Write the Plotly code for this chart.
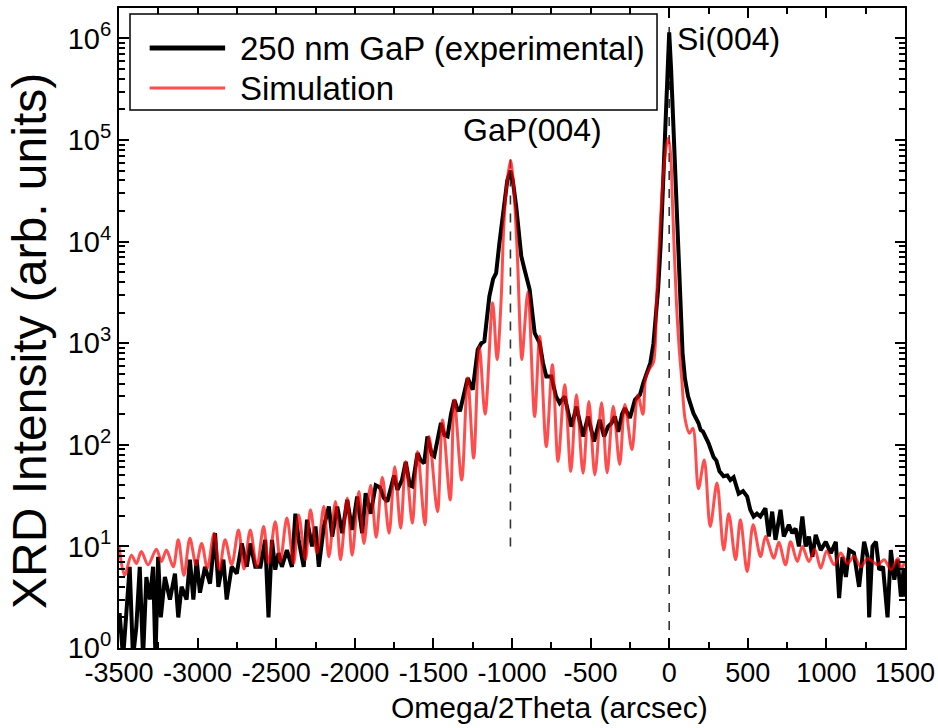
import plotly.graph_objects as go

# ---------------- data ----------------
exp_points = [
    (-3500, 1.4), (-3496, 2.2), (-3474, 0.8), (-3453, 2.0), (-3432, 6.3), (-3411, 0.8),
    (-3390, 1.6), (-3368, 6.3), (-3347, 0.8), (-3326, 5.0), (-3304, 3.0), (-3283, 6.3),
    (-3268, 0.8), (-3251, 7.9), (-3234, 2.0), (-3208, 5.0), (-3176, 3.0), (-3144, 5.4),
    (-3123, 2.0), (-3102, 4.0), (-3070, 3.0), (-3049, 7.4), (-3027, 3.0), (-3006, 7.4),
    (-2985, 3.5), (-2953, 6.3), (-2921, 4.3), (-2889, 13.5), (-2868, 4.0), (-2836, 7.4),
    (-2815, 3.0), (-2783, 6.3), (-2751, 5.4), (-2719, 10.7), (-2687, 6.3), (-2665, 10.7),
    (-2633, 6.3), (-2600, 6.3), (-2570, 11.6), (-2549, 2.0), (-2527, 11.6), (-2506, 5.9),
    (-2485, 8.6), (-2464, 6.3), (-2432, 9.2), (-2400, 6.3), (-2378, 21), (-2357, 11.6),
    (-2325, 6.3), (-2304, 18.3), (-2272, 10), (-2250, 15.7), (-2229, 6.3), (-2197, 15.7),
    (-2165, 24.7), (-2144, 12.5), (-2112, 24.7), (-2080, 13.5), (-2048, 28.7), (-2017, 14.5),
    (-1985, 31), (-1953, 13.5), (-1931, 33.4), (-1899, 21), (-1867, 40), (-1840, 38),
    (-1815, 30), (-1793, 27.6), (-1750, 50), (-1729, 36), (-1700, 45), (-1676, 68),
    (-1650, 40), (-1634, 39), (-1601, 83), (-1580, 70), (-1559, 66), (-1538, 121),
    (-1510, 80), (-1495, 77), (-1452, 164), (-1430, 125), (-1410, 121), (-1388, 200),
    (-1367, 277), (-1345, 220), (-1329, 221), (-1282, 454), (-1265, 380), (-1250, 348),
    (-1218, 863), (-1195, 1000), (-1176, 1042), (-1160, 1800), (-1144, 2890), (-1120, 4300),
    (-1101, 4900), (-1080, 9700), (-1048, 24000), (-1030, 40000), (-1010, 50000), (-995, 40000),
    (-973, 22000), (-952, 10500), (-941, 7200), (-920, 5300), (-888, 3400), (-856, 1260),
    (-824, 1000), (-803, 640), (-782, 471), (-750, 471), (-720, 300), (-697, 258),
    (-665, 299), (-622, 151), (-590, 238), (-548, 121), (-516, 190), (-478, 108),
    (-442, 176), (-414, 121), (-390, 150), (-367, 164), (-346, 190), (-324, 134),
    (-300, 200), (-282, 230), (-250, 184), (-218, 277), (-186, 311), (-165, 406),
    (-140, 520), (-120, 640), (-100, 1000), (-85, 1700), (-70, 3500), (-55, 9000),
    (-40, 30000), (-25, 120000), (-12, 450000), (0, 1150000), (12, 500000), (25, 150000),
    (40, 35000), (55, 8000), (70, 2100), (85, 800), (100, 450), (120, 300),
    (154, 205), (186, 164), (200, 140), (215, 135), (250, 104), (282, 76),
    (300, 70), (320, 55), (346, 49), (370, 50), (389, 45), (410, 48),
    (442, 33), (470, 35), (496, 31), (516, 22.9), (537, 19.7), (558, 21),
    (580, 19.7), (612, 23.8), (634, 12.5), (655, 22), (676, 11.6), (708, 22.9),
    (729, 12.5), (761, 16.3), (783, 13.5), (804, 15), (825, 10), (847, 19.7),
    (868, 10), (889, 12.5), (911, 7.9), (932, 13), (964, 9.2), (996, 11.1),
    (1028, 8.6), (1060, 11.1), (1081, 3.1), (1102, 7.9), (1124, 5.0), (1145, 9.2),
    (1175, 8.6), (1208, 4.0), (1240, 11.1), (1262, 7.9), (1272, 2.0), (1293, 10),
    (1315, 11.1), (1336, 5.9), (1360, 6.3), (1389, 2.0), (1410, 9.2), (1432, 4.7),
    (1453, 7.4), (1474, 3.2), (1491, 5.9), (1500, 3.2),
]

sim_points = [
    (-3500, 10), (-3464, 5.2), (-3421, 8.2), (-3389, 6.8), (-3358, 8.9), (-3315, 6.6),
    (-3262, 9.4), (-3230, 7.1), (-3198, 9.2), (-3155, 6.3), (-3123, 11.6), (-3087, 5.2),
    (-3049, 12), (-3010, 6.6), (-2974, 10.7), (-2938, 6.1), (-2895, 13.5), (-2861, 5.9),
    (-2825, 11.6), (-2783, 6.6), (-2740, 14.5), (-2705, 6.0), (-2665, 14.5), (-2623, 6.3),
    (-2580, 15.7), (-2549, 6.8), (-2506, 17.5), (-2474, 7.1), (-2432, 19), (-2389, 6.8),
    (-2357, 20.4), (-2314, 7.4), (-2282, 22.9), (-2240, 8.6), (-2197, 24.7), (-2165, 7.9),
    (-2123, 27.6), (-2091, 7.4), (-2048, 29.9), (-2017, 8.2), (-1974, 34.7), (-1942, 10.7),
    (-1899, 40), (-1864, 12.3), (-1825, 48), (-1782, 13.5), (-1746, 61), (-1708, 15.1),
    (-1676, 68.5), (-1634, 16.9), (-1601, 86), (-1554, 16.3), (-1527, 121), (-1474, 22),
    (-1442, 176), (-1393, 28.7), (-1367, 277), (-1320, 45), (-1282, 454), (-1244, 74),
    (-1208, 930), (-1171, 200), (-1123, 2500), (-1095, 690), (-1069, 2700), (-1054, 12300),
    (-1037, 32000), (-1010, 63000), (-995, 44000), (-978, 17800), (-963, 5700), (-948, 1260),
    (-937, 690), (-899, 3200), (-856, 190), (-824, 1170), (-782, 96), (-743, 614),
    (-707, 68.5), (-665, 390), (-626, 54.6), (-590, 311), (-548, 52.6), (-511, 267),
    (-473, 50.6), (-430, 260), (-395, 53), (-356, 240), (-315, 64), (-282, 250),
    (-237, 90), (-200, 310), (-167, 200), (-150, 450), (-125, 560), (-100, 650),
    (-80, 2800), (-60, 12000), (-40, 40000), (-20, 85000), (-5, 105000), (10, 70000),
    (20, 26000), (45, 2700), (64, 870), (80, 440), (102, 176), (129, 130),
    (151, 146), (186, 37), (223, 71), (261, 15.7), (304, 42), (347, 9.2),
    (379, 21), (422, 7.4), (453, 18.3), (496, 5.65), (534, 16.3), (581, 7.95),
    (613, 12.5), (666, 7.65), (697, 11), (740, 6.6), (772, 11.1), (815, 7.1),
    (847, 10), (889, 7.1), (926, 9.4), (964, 6.1), (1002, 9), (1049, 6.6),
    (1091, 8.6), (1134, 6.8), (1176, 8), (1219, 6.3), (1262, 7.6), (1326, 6.6),
    (1368, 7.4), (1411, 5.9), (1455, 7.6), (1475, 6.0), (1500, 7.1),
]

exp_x = [p[0] for p in exp_points]
exp_y = [p[1] for p in exp_points]
sim_x = [p[0] for p in sim_points]
sim_y = [p[1] for p in sim_points]

series_names = ["250 nm GaP (experimental)", "Simulation"]
peak_labels = ["GaP(004)", "Si(004)"]
peak_pos = [-1010, 0]

x_ticks = [-3500, -3000, -2500, -2000, -1500, -1000, -500, 0, 500, 1000, 1500]
y_exponents = [0, 1, 2, 3, 4, 5, 6]

# ---------------- figure ----------------
FONT = "Liberation Sans, Arial, sans-serif"
X_RANGE = [-3500, 1500]
Y_RANGE = [0, 6.3]
fig = go.Figure()

# dashed marker lines at the two peak positions
fig.add_trace(go.Scatter(x=[peak_pos[0], peak_pos[0]], y=[10, 78000], mode="lines",
                         line=dict(color="#333333", width=1.6, dash="dash"),
                         hoverinfo="skip", showlegend=False))
fig.add_trace(go.Scatter(x=[peak_pos[1], peak_pos[1]], y=[1, 10 ** 6.3], mode="lines",
                         line=dict(color="#333333", width=1.6, dash="dash"),
                         hoverinfo="skip", showlegend=False))

fig.add_trace(go.Scatter(x=exp_x, y=exp_y, mode="lines", name=series_names[0],
                         line=dict(color="black", width=4), showlegend=False))
fig.add_trace(go.Scatter(x=sim_x, y=sim_y, mode="lines", name=series_names[1],
                         line=dict(color="rgba(255,0,0,0.7)", width=3,
                                   shape="spline", smoothing=0.9),
                         showlegend=False))

# empty trace that carries the mirrored (top / right) tick axes
fig.add_trace(go.Scatter(x=[None], y=[None], xaxis="x2", yaxis="y2",
                         mode="lines", showlegend=False, hoverinfo="skip"))

minor_vals = [m * 10 ** e for e in range(0, 7) for m in range(2, 10)]

xcommon = dict(
    range=X_RANGE, tickmode="array", tickvals=x_ticks,
    ticks="inside", ticklen=10, tickwidth=2, tickcolor="black",
    showline=True, linecolor="black", linewidth=2,
    showgrid=False, zeroline=False,
    minor=dict(dtick=250, tick0=-3500, ticks="inside", ticklen=6, tickwidth=2,
               tickcolor="black", showgrid=False),
)
ycommon = dict(
    type="log", range=Y_RANGE, tickmode="array",
    tickvals=[10 ** e for e in y_exponents],
    ticks="inside", ticklen=10, tickwidth=2, tickcolor="black",
    showline=True, linecolor="black", linewidth=2,
    showgrid=False, zeroline=False,
    minor=dict(tickmode="array", tickvals=minor_vals, ticks="inside", ticklen=6,
               tickwidth=2, tickcolor="black", showgrid=False),
)

fig.update_layout(
    xaxis=dict(**xcommon, ticktext=[str(t) for t in x_ticks],
               tickfont=dict(family=FONT, size=27, color="black")),
    yaxis=dict(**ycommon, ticktext=["10<sup>%d</sup>" % e for e in y_exponents],
               tickfont=dict(family=FONT, size=29, color="black")),
    xaxis2=dict(**xcommon, overlaying="x", side="top", showticklabels=False),
    yaxis2=dict(**ycommon, overlaying="y", side="right", showticklabels=False),
)

# axis titles
fig.add_annotation(xref="paper", yref="paper", x=0.548, y=-0.093,
                   text="Omega/2Theta (arcsec)", showarrow=False,
                   xanchor="center", yanchor="middle",
                   font=dict(family=FONT, size=30, color="black"))
fig.add_annotation(xref="paper", yref="paper", x=-0.113, y=0.48,
                   text="XRD Intensity (arb. units)", showarrow=False, textangle=-90,
                   xanchor="center", yanchor="middle",
                   font=dict(family=FONT, size=48, color="black"))

# custom legend (box + line samples + labels)
fig.add_shape(type="rect", xref="paper", yref="paper", x0=0.014, x1=0.6845,
              y0=0.8406, y1=0.9906, line=dict(color="black", width=1.5),
              fillcolor="white", layer="above")
fig.add_shape(type="line", xref="paper", yref="paper", x0=0.039, x1=0.135,
              y0=0.9375, y1=0.9375, line=dict(color="black", width=5), layer="above")
fig.add_shape(type="line", xref="paper", yref="paper", x0=0.039, x1=0.135,
              y0=0.875, y1=0.875, line=dict(color="rgba(255,0,0,0.7)", width=3), layer="above")
fig.add_annotation(xref="paper", yref="paper", x=0.151, y=0.9375, text=series_names[0],
                   showarrow=False, xanchor="left", yanchor="middle",
                   font=dict(family=FONT, size=33, color="black"))
fig.add_annotation(xref="paper", yref="paper", x=0.151, y=0.875, text=series_names[1],
                   showarrow=False, xanchor="left", yanchor="middle",
                   font=dict(family=FONT, size=33, color="black"))

# peak labels
fig.add_annotation(x=-870, xref="x", yref="paper", y=0.809, text=peak_labels[0],
                   showarrow=False, xanchor="center", yanchor="middle",
                   font=dict(family=FONT, size=32, color="black"))
fig.add_annotation(x=380, xref="x", yref="paper", y=0.952, text=peak_labels[1],
                   showarrow=False, xanchor="center", yanchor="middle",
                   font=dict(family=FONT, size=32, color="black"))

fig.update_layout(
    width=938, height=728,
    margin=dict(l=119, r=33, t=8, b=80, autoexpand=False),
    plot_bgcolor="white", paper_bgcolor="white",
    showlegend=False,
)

fig.write_html("out.html")
